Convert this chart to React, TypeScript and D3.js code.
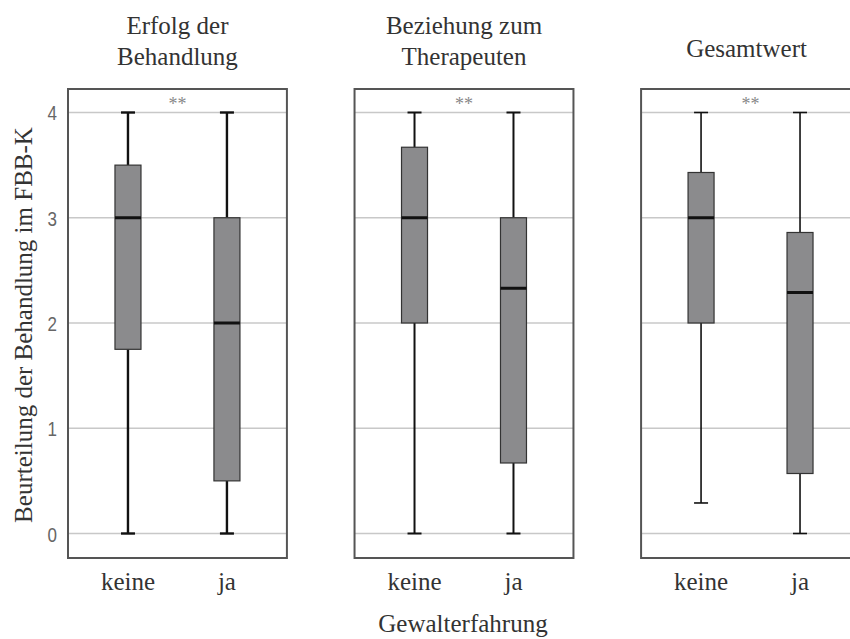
import React from "react";
import * as d3 from "d3";

const panels = ["Erfolg der Behandlung", "Beziehung zum Therapeuten", "Gesamtwert"];
const panelTitles = [["Erfolg der", "Behandlung"], ["Beziehung zum", "Therapeuten"], ["Gesamtwert"]];
const groups = ["keine", "ja"];
const yTicks = [0, 1, 2, 3, 4];
const signif = ["**", "**", "**"];

// per panel: [keine, ja]
const whiskerLow = [[0, 0], [0, 0], [0.29, 0]];
const q1 = [[1.75, 0.5], [2, 0.67], [2, 0.57]];
const median = [[3, 2], [3, 2.33], [3, 2.29]];
const q3 = [[3.5, 3], [3.67, 3], [3.43, 2.86]];
const whiskerHigh = [[4, 4], [4, 4], [4, 4]];

const yLabel = "Beurteilung der Behandlung im FBB-K";
const xLabel = "Gewalterfahrung";

export default function App() {
  const W = 850, H = 639;
  const top = 89, bottom = 558;
  const panelScale = d3.scaleBand<string>().domain(panels).range([68, 860]).paddingInner(0.236).paddingOuter(0);
  const pw = panelScale.bandwidth();
  const y = d3.scaleLinear().domain([0, 4]).range([533.5, 112.5]);
  const xIn = d3.scalePoint<string>().domain(groups).range([0, pw]).padding(0.606);
  const boxW = 26;
  const capW = 14;
  const whiskerW = [2.4, 2, 1.6];
  const serif = "'Liberation Serif', 'Times New Roman', serif";
  const sans = "'Liberation Sans', Arial, sans-serif";

  return (
    <svg width={W} height={H} style={{ position: "absolute", left: 0, top: 0, background: "#fff" }}>
      {panels.map((p, pi) => {
        const x0 = panelScale(p)!;
        const titleLines = panelTitles[pi];
        return (
          <g key={p} transform={`translate(${x0},0)`}>
            {titleLines.map((t, li) => (
              <text key={li} x={pw / 2 + (titleLines.length === 1 ? -4 : 0)} y={titleLines.length === 2 ? 34 + li * 31 : 57} textAnchor="middle"
                fontFamily={serif} fontSize={25} fill="#333">{t}</text>
            ))}
            {yTicks.map(t => (
              <line key={t} x1={0} x2={pw} y1={y(t)} y2={y(t)} stroke="#c8c8c8" strokeWidth={1.5} />
            ))}
            <text x={pw / 2} y={110} textAnchor="middle" fontFamily={serif} fontSize={18} fill="#888">{signif[pi]}</text>
            {groups.map((g, gi) => {
              const cx = xIn(g)!;
              const sw = whiskerW[pi];
              return (
                <g key={g}>
                  <line x1={cx} x2={cx} y1={y(whiskerHigh[pi][gi])} y2={y(q3[pi][gi])} stroke="#111" strokeWidth={sw} />
                  <line x1={cx} x2={cx} y1={y(q1[pi][gi])} y2={y(whiskerLow[pi][gi])} stroke="#111" strokeWidth={sw} />
                  <line x1={cx - capW / 2} x2={cx + capW / 2} y1={y(whiskerHigh[pi][gi])} y2={y(whiskerHigh[pi][gi])} stroke="#111" strokeWidth={sw} />
                  <line x1={cx - capW / 2} x2={cx + capW / 2} y1={y(whiskerLow[pi][gi])} y2={y(whiskerLow[pi][gi])} stroke="#111" strokeWidth={sw} />
                  <rect x={cx - boxW / 2} y={y(q3[pi][gi])} width={boxW} height={y(q1[pi][gi]) - y(q3[pi][gi])}
                    fill="#8b8b8d" stroke="#333" strokeWidth={1.2} />
                  <line x1={cx - boxW / 2} x2={cx + boxW / 2} y1={y(median[pi][gi])} y2={y(median[pi][gi])} stroke="#111" strokeWidth={3} />
                  <text x={cx} y={590} textAnchor="middle" fontFamily={serif} fontSize={25} fill="#333">{g}</text>
                </g>
              );
            })}
            <rect x={0} y={top} width={pw} height={bottom - top} fill="none" stroke="#555" strokeWidth={2} />
          </g>
        );
      })}
      {yTicks.map(t => (
        <text key={t} x={57} y={y(t)} dy="0.4em" textAnchor="end" fontFamily={sans} fontSize={20} fill="#666"
          transform={`translate(57,0) scale(0.85,1) translate(-57,0)`}>{t}</text>
      ))}
      <text transform={`translate(32,325) rotate(-90)`} textAnchor="middle" fontFamily={serif} fontSize={25} fill="#333">{yLabel}</text>
      <text x={463} y={632} textAnchor="middle" fontFamily={serif} fontSize={25} fill="#333">{xLabel}</text>
    </svg>
  );
}
